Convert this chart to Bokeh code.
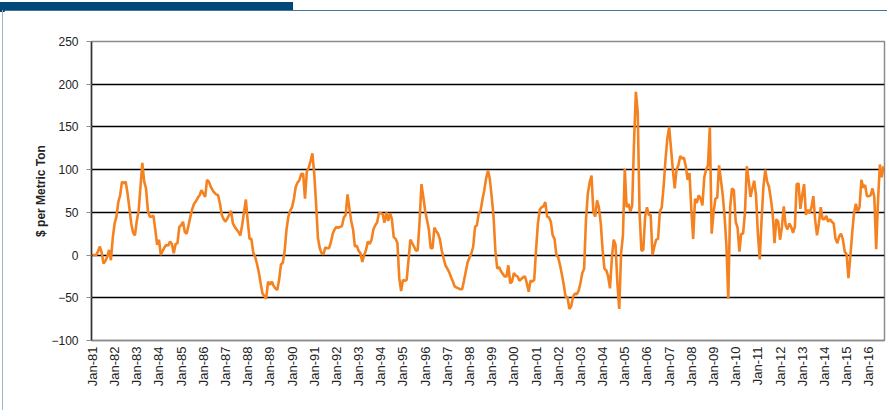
from math import pi
from bokeh.plotting import figure
from bokeh.models import FixedTicker, Range1d, Div
from bokeh.layouts import column, row
from bokeh.embed import file_html
from bokeh.resources import INLINE

# Monthly values, Jan-1981 .. Sep-2016 ($ per metric ton)
values = [
    0, 0, 0, 4, 10, 3, -10, -7, -2, 6,
    -6, 20, 37, 45, 62, 70, 86, 84, 86, 72,
    55, 37, 26, 23, 40, 52, 80, 108, 86, 78,
    52, 45, 45, 46, 30, 12, 18, 0, 5, 9,
    12, 11, 16, 13, 2, 13, 14, 33, 35, 39,
    27, 25, 35, 45, 54, 60, 63, 67, 70, 76,
    72, 68, 88, 86, 80, 76, 73, 71, 70, 60,
    47, 42, 39, 43, 47, 52, 37, 33, 30, 27,
    23, 35, 50, 65, 40, 19, 19, 3, -2, -10,
    -20, -33, -45, -48, -51, -31, -35, -31, -36, -39,
    -41, -29, -11, -9, 5, 30, 45, 52, 56, 66,
    80, 85, 88, 95, 95, 66, 98, 102, 110, 119,
    95, 60, 20, 8, 2, 1, 9, 8, 8, 15,
    25, 30, 33, 32, 33, 34, 44, 47, 71, 55,
    40, 30, 10, 11, 5, 2, -8, 0, 6, 16,
    13, 18, 30, 35, 38, 49, 49, 48, 38, 50,
    40, 49, 42, 21, 19, 14, -27, -42, -29, -30,
    -29, -6, 18, 14, 10, 5, 6, 40, 83, 68,
    52, 41, 30, 8, 8, 32, 28, 25, 18, 5,
    -4, -12, -16, -20, -26, -31, -37, -38, -39, -40,
    -40, -30, -19, -8, -3, 2, 10, 33, 35, 49,
    52, 65, 76, 90, 99, 89, 68, 45, 5, -16,
    -14, -19, -22, -25, -25, -12, -33, -31, -21, -24,
    -25, -30, -28, -26, -25, -33, -43, -30, -31, -29,
    6, 37, 53, 56, 57, 62, 45, 44, 39, 23,
    19, 0, -3, -12, -23, -35, -49, -49, -63, -60,
    -49, -45, -46, -42, -33, -21, -16, 41, 72, 85,
    93, 51, 45, 64, 56, 37, 6, -16, -18, -25,
    -39, -4, 18, 12, -33, -63, 2, 23, 101, 56,
    60, 51, 58, 132, 191, 167, 49, 5, 6, 45,
    56, 47, 47, 0, 10, 18, 19, 51, 56, 80,
    111, 136, 150, 125, 100, 78, 100, 105, 116, 113,
    114, 104, 88, 96, 53, 19, 66, 61, 70, 66,
    58, 91, 100, 105, 150, 25, 49, 66, 67, 105,
    88, 70, 45, 10, -51, 56, 78, 76, 39, 32,
    4, 25, 25, 49, 104, 88, 68, 78, 87, 70,
    25, -5, 41, 80, 100, 86, 80, 66, 49, 14,
    42, 39, 18, 33, 57, 35, 30, 37, 33, 26,
    33, 83, 84, 54, 70, 83, 47, 53, 49, 56,
    69, 41, 23, 37, 56, 42, 42, 46, 39, 42,
    39, 37, 19, 14, 22, 25, 18, 4, 1, -27,
    -2, 25, 49, 60, 51, 56, 88, 79, 82, 69,
    69, 70, 78, 68, 7, 64, 106, 91, 104,
]

tick_labels = [
    "Jan-81", "Jan-82", "Jan-83", "Jan-84", "Jan-85", "Jan-86", "Jan-87",
    "Jan-88", "Jan-89", "Jan-90", "Jan-91", "Jan-92", "Jan-93", "Jan-94",
    "Jan-95", "Jan-96", "Jan-97", "Jan-98", "Jan-99", "Jan-00", "Jan-01",
    "Jan-02", "Jan-03", "Jan-04", "Jan-05", "Jan-06", "Jan-07", "Jan-08",
    "Jan-09", "Jan-10", "Jan-11", "Jan-12", "Jan-13", "Jan-14", "Jan-15",
    "Jan-16",
]
y_ticks = [-100, -50, 0, 50, 100, 150, 200, 250]
y_title = "$ per Metric Ton"

months = list(range(len(values)))
x_ticks = [12 * i for i in range(len(tick_labels))]

FONT = "Liberation Sans"
TOTAL_W = 887

p = figure(
    width=TOTAL_W - 4, height=400,
    output_backend="svg", toolbar_location=None,
    x_range=Range1d(-0.5, len(values) - 0.5),
    y_range=Range1d(y_ticks[0], y_ticks[-1]),
    min_border_left=87, min_border_right=3,
    min_border_top=31, min_border_bottom=70,
    background_fill_color="white", border_fill_color="white",
)
p.outline_line_color = "#8c8c8c"
p.outline_line_width = 1.5

# grid
p.xgrid.grid_line_color = None
p.ygrid.ticker = FixedTicker(ticks=y_ticks)
p.ygrid.grid_line_color = "black"
p.ygrid.grid_line_width = 1.3

# y axis
p.yaxis.ticker = FixedTicker(ticks=y_ticks)
p.yaxis.major_tick_out = 5
p.yaxis.major_tick_in = 0
p.yaxis.minor_tick_line_color = None
p.yaxis.axis_line_color = "#333333"
p.yaxis.axis_line_width = 1.5
p.yaxis.major_tick_line_color = "#8c8c8c"
p.yaxis.major_label_text_font = FONT
p.yaxis.major_label_text_font_size = "12px"
p.yaxis.major_label_text_color = "#222222"
p.yaxis.major_label_standoff = 8
p.yaxis.axis_label = y_title
p.yaxis.axis_label_text_font = FONT
p.yaxis.axis_label_text_font_style = "bold"
p.yaxis.axis_label_text_font_size = "12px"
p.yaxis.axis_label_text_color = "#222222"
p.yaxis.axis_label_standoff = 0

# x axis
p.xaxis.ticker = FixedTicker(ticks=x_ticks)
p.xaxis.major_label_overrides = {t: lab for t, lab in zip(x_ticks, tick_labels)}
p.xaxis.major_label_orientation = pi / 2
p.xaxis.major_tick_out = 0
p.xaxis.major_tick_in = 0
p.xaxis.minor_tick_line_color = None
p.xaxis.axis_line_color = "#8c8c8c"
p.xaxis.axis_line_width = 1.5
p.xaxis.major_label_text_font = FONT
p.xaxis.major_label_text_font_size = "13px"
p.xaxis.major_label_text_color = "#222222"
p.xaxis.major_label_standoff = 6

p.line(months, values, line_color="#F58220", line_width=2.6)

# header band and left frame line (page decoration)
header = Div(
    text=(
        '<div style="position:relative;width:%dpx;height:10px;">'
        '<div style="position:absolute;left:0;top:0;width:293px;height:10px;background:#004878;"></div>'
        '<div style="position:absolute;left:293px;top:8px;width:%dpx;height:2px;background:#004878;"></div>'
        '</div>' % (TOTAL_W, TOTAL_W - 293)
    ),
    width=TOTAL_W, height=10, margin=0,
)
left_edge = Div(
    text='<div style="position:relative;width:4px;height:400px;">'
         '<div style="position:absolute;left:2px;top:0;width:1px;height:400px;background:#9fb3c8;"></div>'
         '</div>',
    width=4, height=400, margin=0,
)

layout = column(header, row(left_edge, p, spacing=0), spacing=0)

open("out.html", "w").write(file_html(layout, INLINE))
